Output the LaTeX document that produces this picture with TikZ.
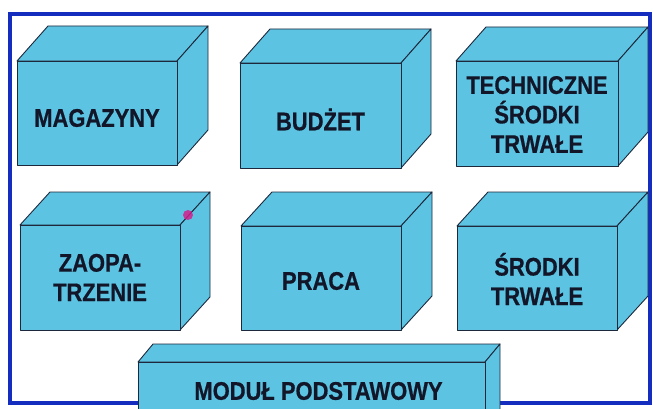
\documentclass[tikz,border=0pt]{standalone}
\usepackage{fontspec}
\setmainfont{Liberation Sans}[FakeStretch=0.86,BoldFeatures={FakeBold=0.6}]
\definecolor{boxfill}{RGB}{92,196,226}
\definecolor{edgecol}{RGB}{30,40,60}
\definecolor{textcol}{RGB}{18,22,40}
\definecolor{framecol}{RGB}{20,45,190}
\tikzset{
  face/.style={fill=boxfill, draw=edgecol, line width=0.9pt, line join=round},
  lbl/.style={font=\fontsize{25.5}{29.5}\selectfont\bfseries, text=textcol, align=center, inner sep=0pt},
  framestyle/.style={draw=framecol, line width=3.2pt}
}
% #1 name, #2 x1, #3 y1 (top), #4 x2, #5 y2 (bottom), #6 dx, #7 dy, #8 label, #9 label y-shift
\newcommand\drawcuboid[9]{%
  \draw[face] (#2,#3) -- ++(#6,-#7) -- ({#4+#6},{#3-#7}) -- (#4,#3) -- cycle;
  \draw[face] (#4,#3) -- ({#4+#6},{#3-#7}) -- ({#4+#6},{#5-#7}) -- (#4,#5) -- cycle;
  \draw[face] (#2,#3) rectangle (#4,#5);
  \node[lbl] (#1) at ({(#2+#4)/2},{(#3+#5)/2+#9}) {#8};
}
\begin{document}
\begin{tikzpicture}[x=1pt,y=-1pt]
\useasboundingbox (0,0) rectangle (653,409);
\clip (0,0) rectangle (653,409);
\fill[white] (0,0) rectangle (653,409);
% frame
\draw[framestyle] (10,14) rectangle (650,403);
% row 1
\drawcuboid{mag}{17}{61}{177}{165}{31}{35}{MAGAZYNY}{5}
\drawcuboid{bud}{240}{63}{401}{168}{30}{34}{BUDŻET}{4}
\drawcuboid{tech}{456}{61}{618}{166}{30}{34}{TECHNICZNE\\ŚRODKI\\TRWAŁE}{1}
% row 2
\drawcuboid{zao}{20}{225}{180}{330}{30}{33}{ZAOPA-\\TRZENIE}{0}
\drawcuboid{praca}{241}{226}{401}{330}{31}{34}{PRACA}{3}
\drawcuboid{srt}{457}{226}{617}{330}{31}{34}{ŚRODKI\\TRWAŁE}{1}
% base module
\draw[face] (138,362) -- (153,344) -- (500,344) -- (485,362) -- cycle;
\draw[face] (485,362) -- (500,344) -- (500,420) -- (485,420) -- cycle;
\draw[face] (138,362) rectangle (485,420);
\node[lbl] (base) at (318.5,391) {MODUŁ PODSTAWOWY};
% smudge
\fill[magenta!80!violet, opacity=0.8] (188,215) circle (5);
\end{tikzpicture}
\end{document}
